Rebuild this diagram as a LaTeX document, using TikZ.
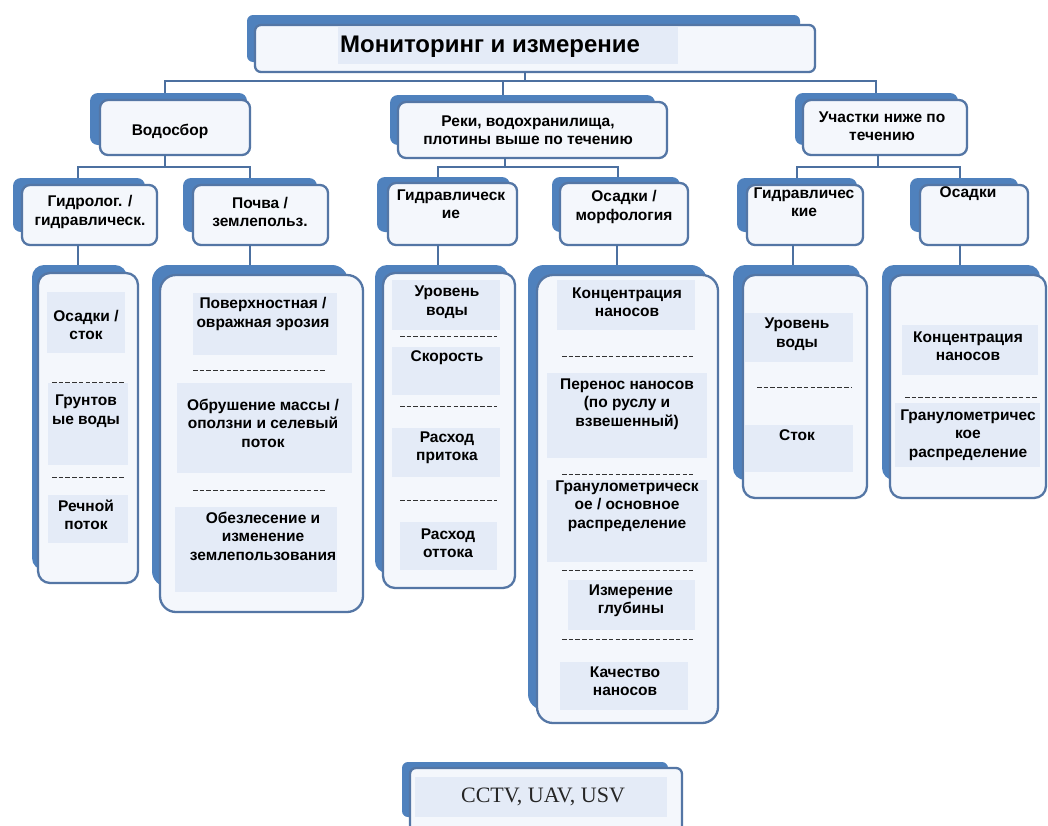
\documentclass[tikz,border=0pt]{standalone}
\usepackage{fontspec}
\setmainfont{Liberation Sans}
\newfontfamily\serifcc{Liberation Serif}
\definecolor{backc}{RGB}{79,129,189}
\definecolor{frontc}{RGB}{84,118,165}
\definecolor{frontfill}{RGB}{244,247,252}
\definecolor{innerc}{RGB}{228,235,247}
\definecolor{connc}{RGB}{76,112,160}
\definecolor{sepc}{RGB}{50,50,50}
\newcommand\dbx[9]{%
 \node[backbox, minimum width={#4-#2}, minimum height={#5-#3}] (#1-b) at ({(#2+#4)/2},{(#3+#5)/2}) {};
 \node[frontbox, minimum width={#8-#6}, minimum height={#9-#7}] (#1) at ({(#6+#8)/2},{(#7+#9)/2}) {};}
\begin{document}
\begin{tikzpicture}[x=1pt,y=-1pt,
 backbox/.style={shape=rectangle, fill=backc, draw=none, inner sep=0pt, outer sep=0pt},
 frontbox/.style={shape=rectangle, fill=frontfill, draw=frontc, line width=2.3pt, inner sep=0pt, outer sep=0pt},
 inner/.style={fill=innerc},
 txt/.style={font=\bfseries\fontsize{15.5}{18.5}\selectfont, align=center, inner sep=0pt, text=black},
 sep/.style={draw=sepc, line width=0.9pt, dash pattern=on 4.5pt off 2.2pt},
 conn/.style={draw=connc, line width=2.6pt}]
\useasboundingbox (0,0) rectangle (1048,825);
\fill[white] (0,0) rectangle (1048,825);

% ---------- top ----------
\begin{scope}[rounded corners=6pt]
\dbx{title}{247}{15}{800}{62}{255}{25}{815}{72}
\end{scope}
\fill[inner] (338,27) rectangle (678,64);
\node[txt, font=\bfseries\fontsize{24}{27}\selectfont] (title-t) at (490,47) {Мониторинг и измерение};

% ---------- level 1 ----------
\begin{scope}[rounded corners=8pt]
\dbx{wat}{90}{93}{247}{145}{100}{100}{250}{155}
\dbx{riv}{390}{95}{655}{145}{398}{102}{667}{158}
\dbx{dwn}{795}{93}{958}{145}{803}{100}{967}{155}
\end{scope}
\node[txt] (wat-t) at (170,131) {Водосбор};
\node[txt] (riv-t) at (528,130) {Реки, водохранилища,\\плотины выше по течению};
\node[txt] (dwn-t) at (882,126) {Участки ниже по\\течению};

% ---------- level 2 ----------
\begin{scope}[rounded corners=8pt]
\dbx{hyd}{13}{178}{145}{232}{22}{185}{157}{245}
\dbx{soil}{183}{178}{317}{232}{193}{185}{328}{245}
\dbx{rhyd}{377}{177}{510}{232}{388}{183}{517}{245}
\dbx{rsed}{552}{177}{680}{232}{560}{183}{688}{245}
\dbx{dhyd}{737}{178}{857}{232}{747}{185}{863}{245}
\dbx{dsed}{910}{178}{1018}{232}{920}{185}{1028}{245}
\end{scope}
\node[txt] (hyd-t) at (90,212) {Гидролог. /\\гидравлическ.};
\node[txt] (soil-t) at (260,212) {Почва /\\землепольз.};
\node[txt] (rhyd-t) at (451,204) {Гидравлическ\\ие};
\node[txt] (rsed-t) at (624,207) {Осадки /\\морфология};
\node[txt] (dhyd-t) at (804,202) {Гидравличес\\кие};
\node[txt] (dsed-t) at (968,194) {Осадки};

% ---------- level 3 ----------
\begin{scope}[rounded corners=12pt]
\dbx{c1}{32}{265}{127}{570}{38}{273}{138}{583}
\dbx{c3}{375}{265}{508}{573}{383}{273}{515}{588}
\dbx{c5}{733}{265}{860}{480}{743}{275}{867}{498}
\dbx{c6}{882}{265}{1040}{480}{890}{275}{1046}{498}
\end{scope}
\begin{scope}[rounded corners=16pt]
\dbx{c2}{152}{265}{348}{587}{160}{275}{363}{612}
\dbx{c4}{528}{265}{707}{710}{537}{275}{718}{723}
\end{scope}

% column 1
\fill[inner] (47,292) rectangle (125,353);
\fill[inner] (48,383) rectangle (128,465);
\fill[inner] (48,495) rectangle (128,543);
\node[txt] (c1a) at (86,325) {Осадки /\\сток};
\draw[sep] (52,382) -- (125,382);
\node[txt] (c1b) at (86,411) {Грунтов\\ые воды};
\draw[sep] (52,477) -- (125,477);
\node[txt] (c1c) at (86,515) {Речной\\поток};

% column 2
\fill[inner] (193,293) rectangle (337,355);
\fill[inner] (177,383) rectangle (352,473);
\fill[inner] (175,507) rectangle (337,592);
\node[txt] (c2a) at (263,314) {Поверхностная /\\овражная эрозия};
\draw[sep] (193,370) -- (325,370);
\node[txt] (c2b) at (263,423) {Обрушение массы /\\оползни и селевый\\поток};
\draw[sep] (193,490) -- (325,490);
\node[txt] (c2c) at (263,536) {Обезлесение и\\изменение\\землепользования};

% column 3
\fill[inner] (392,280) rectangle (500,330);
\fill[inner] (392,347) rectangle (500,395);
\fill[inner] (392,428) rectangle (500,477);
\fill[inner] (400,522) rectangle (497,570);
\node[txt] (c3a) at (447,302) {Уровень\\воды};
\draw[sep] (400,336) -- (497,336);
\node[txt] (c3b) at (447,358) {Скорость};
\draw[sep] (400,406) -- (497,406);
\node[txt] (c3c) at (447,448) {Расход\\притока};
\draw[sep] (400,500) -- (497,500);
\node[txt] (c3d) at (448,543) {Расход\\оттока};

% column 4
\fill[inner] (557,280) rectangle (695,330);
\fill[inner] (547,373) rectangle (707,458);
\fill[inner] (547,480) rectangle (707,562);
\fill[inner] (568,580) rectangle (695,630);
\fill[inner] (560,662) rectangle (688,710);
\node[txt] (c4a) at (627,302) {Концентрация\\наносов};
\draw[sep] (562,356) -- (693,356);
\node[txt] (c4b) at (627,404) {Перенос наносов\\(по руслу и\\взвешенный)};
\draw[sep] (562,474) -- (693,474);
\node[txt] (c4c) at (627,506) {Гранулометрическ\\ое / основное\\распределение};
\draw[sep] (562,570) -- (693,570);
\node[txt] (c4d) at (631,601) {Измерение\\глубины};
\draw[sep] (562,639) -- (693,639);
\node[txt] (c4e) at (625,681) {Качество\\наносов};

% column 5
\fill[inner] (745,313) rectangle (853,362);
\fill[inner] (745,425) rectangle (853,472);
\node[txt] (c5a) at (797,334) {Уровень\\воды};
\draw[sep] (757,387) -- (852,387);
\node[txt] (c5b) at (797,435) {Сток};

% column 6
\fill[inner] (902,325) rectangle (1038,375);
\fill[inner] (895,403) rectangle (1040,467);
\node[txt] (c6a) at (968,346) {Концентрация\\наносов};
\draw[sep] (905,397) -- (1038,397);
\node[txt] (c6b) at (968,435) {Гранулометричес\\кое\\распределение};

% ---------- bottom ----------
\begin{scope}[rounded corners=6pt]
\dbx{cam}{402}{762}{668}{817}{410}{768}{682}{845}
\end{scope}
\fill[inner] (415,777) rectangle (667,817);
\node[inner sep=0pt, font=\serifcc\fontsize{22}{25}\selectfont, text=black!85] (cam-t) at (543,797) {CCTV, UAV, USV};

% ---------- connectors ----------
\coordinate (jT) at (525,81);
\coordinate (jA) at (165,81);
\coordinate (jB) at (503,81);
\coordinate (jC) at (876,81);
\draw[conn] (jT |- title.south) -- (jT);
\draw[conn, line cap=rect] (jA) -- (jC);
\draw[conn] (jA) -- (jA |- wat-b.north);
\draw[conn] (jB) -- (jB |- riv-b.north);
\draw[conn] (jC) -- (jC |- dwn-b.north);

\coordinate (w0) at (165,167);
\coordinate (w1) at (78,167);
\coordinate (w2) at (250,167);
\draw[conn] (w0 |- wat.south) -- (w0);
\draw[conn] (w1 |- hyd-b.north) -- (w1) -- (w2) -- (w2 |- soil-b.north);

\coordinate (r0) at (505,167);
\coordinate (r1) at (438,167);
\coordinate (r2) at (618,167);
\draw[conn] (r0 |- riv.south) -- (r0);
\draw[conn] (r1 |- rhyd-b.north) -- (r1) -- (r2) -- (r2 |- rsed-b.north);

\coordinate (d0) at (878,167);
\coordinate (d1) at (797,167);
\coordinate (d2) at (960,167);
\draw[conn] (d0 |- dwn.south) -- (d0);
\draw[conn] (d1 |- dhyd-b.north) -- (d1) -- (d2) -- (d2 |- dsed-b.north);

\coordinate (k1) at (78,0);
\coordinate (k2) at (250,0);
\coordinate (k3) at (438,0);
\coordinate (k4) at (617,0);
\coordinate (k5) at (793,0);
\coordinate (k6) at (960,0);
\draw[conn] (k1 |- hyd.south) -- (k1 |- c1-b.north);
\draw[conn] (k2 |- soil.south) -- (k2 |- c2-b.north);
\draw[conn] (k3 |- rhyd.south) -- (k3 |- c3-b.north);
\draw[conn] (k4 |- rsed.south) -- (k4 |- c4-b.north);
\draw[conn] (k5 |- dhyd.south) -- (k5 |- c5-b.north);
\draw[conn] (k6 |- dsed.south) -- (k6 |- c6-b.north);
\end{tikzpicture}
\end{document}
